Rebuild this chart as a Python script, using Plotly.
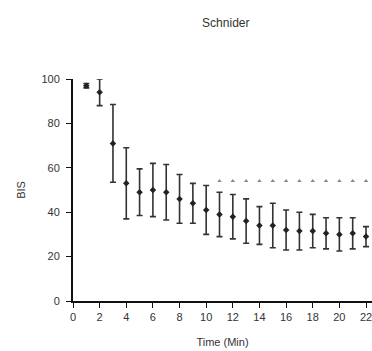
import plotly.graph_objects as go

time_min = list(range(1, 23))
bis_mean = [97, 94, 71, 53, 49, 50, 49, 46, 44, 41, 39, 38, 36, 34, 34, 32, 31.5, 31.5, 30.5, 30, 30.5, 29]
bis_sd = [1, 6, 17.5, 16, 10.5, 12, 12.5, 11, 9, 11, 10, 10, 10, 8.5, 10, 9, 8.5, 7.5, 7, 7.5, 7, 4.5]
ref_time = list(range(11, 23))
ref_bis = [54] * 12
x_ticks = list(range(0, 23, 2))
y_ticks = [0, 20, 40, 60, 80, 100]

fig = go.Figure()
fig.add_trace(go.Scatter(
    x=time_min, y=bis_mean, mode="markers",
    marker=dict(color="#222", size=5, symbol="diamond"),
    error_y=dict(type="data", array=bis_sd, visible=True, color="#333", thickness=1.6, width=3),
    cliponaxis=False, showlegend=False))
fig.add_trace(go.Scatter(
    x=ref_time, y=ref_bis, mode="markers",
    marker=dict(color="#888", size=4, symbol="triangle-up"),
    cliponaxis=False, showlegend=False))

axis_font = dict(family="Liberation Sans, Arial", size=11, color="#333")
fig.update_layout(
    width=372, height=351,
    margin=dict(l=73, r=0, t=79, b=50),
    paper_bgcolor="white", plot_bgcolor="white",
    title=dict(text="Schnider", x=0.607, xanchor="center", y=0.935, yanchor="middle",
               font=dict(family="Liberation Sans, Arial", size=12, color="#333")),
    xaxis=dict(range=[0, 22.45], tickvals=x_ticks, showgrid=False, zeroline=False,
               showline=True, linecolor="#111", linewidth=2, ticks="outside", ticklen=5,
               tickcolor="#111", tickfont=axis_font, ticklabeloverflow="allow",
               title=dict(text="Time (Min)", font=axis_font, standoff=16)),
    yaxis=dict(range=[0, 100], tickvals=y_ticks, showgrid=False, zeroline=False,
               showline=True, linecolor="#111", linewidth=2, ticks="outside", ticklen=5,
               tickcolor="#111", tickfont=axis_font, ticklabelstandoff=4,
               title=dict(text="BIS", font=axis_font, standoff=14)),
)
fig.write_html("out.html", config={"displayModeBar": False},
               post_script="document.body.style.margin='0';document.body.style.overflow='hidden';")
